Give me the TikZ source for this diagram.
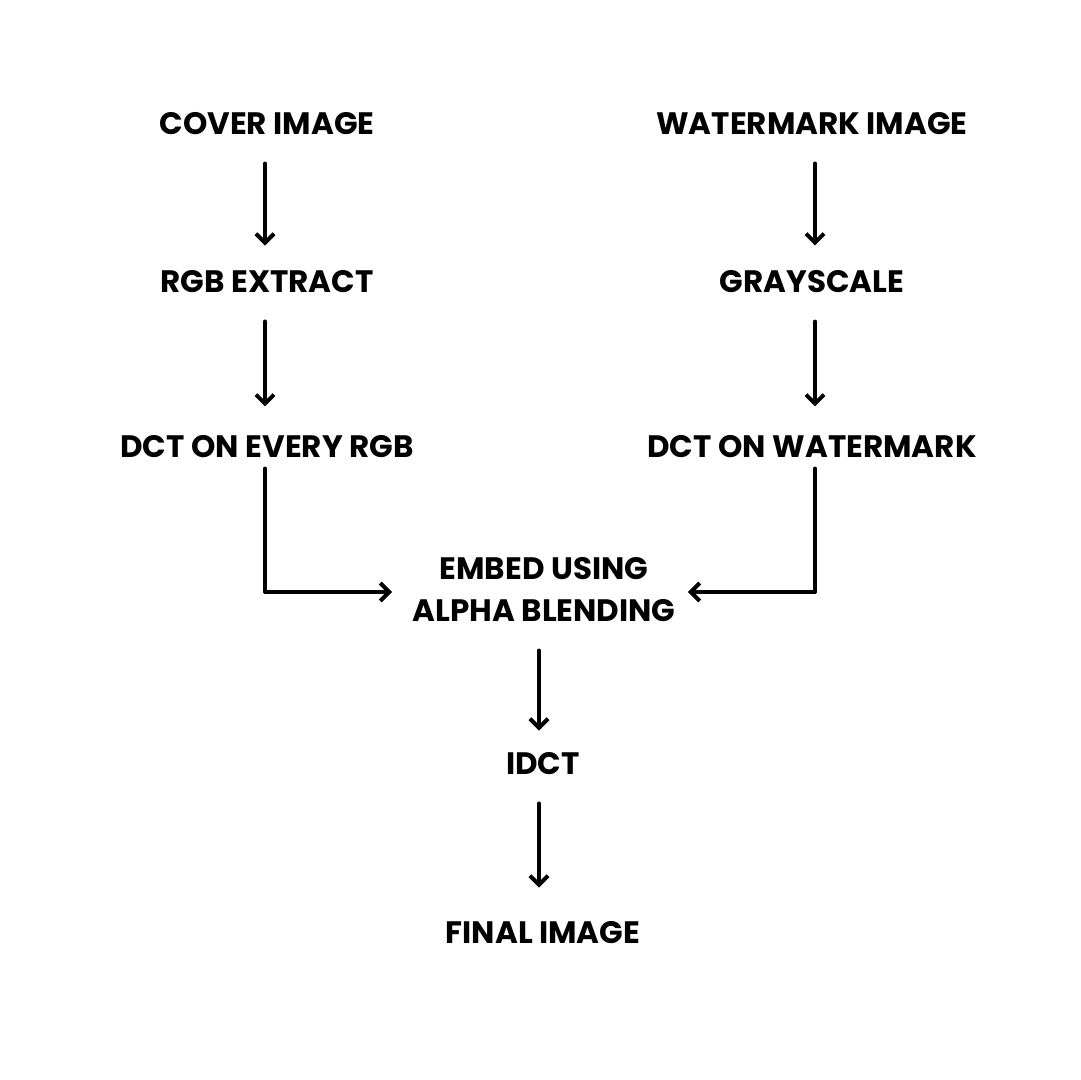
\documentclass[tikz,border=0pt]{standalone}
\usepackage{fontspec}
\setmainfont{Poppins}
\usetikzlibrary{arrows.meta}
\tikzset{
  step label/.style={font=\fontsize{15.5}{21}\selectfont\bfseries, inner sep=0pt, align=center},
  flow/.style={line width=2pt, line cap=round, line join=round,
    -{Straight Barb[length=4.5pt, width=9pt, line width=2pt]}},
}
\begin{document}
\begin{tikzpicture}[x=0.5pt, y=-0.5pt]
        \useasboundingbox (0,0) rectangle (1080,1080);
        \node[step label] (L1) at (267, 124) {COVER IMAGE};
        \node[step label] (L2) at (267, 282) {RGB EXTRACT};
        \node[step label] (L3) at (267, 447) {DCT ON EVERY RGB};
        \node[step label] (R1) at (812, 124) {WATERMARK IMAGE};
        \node[step label] (R2) at (812, 282) {GRAYSCALE};
        \node[step label] (R3) at (812, 447) {DCT ON WATERMARK};
        \node[step label] (M1) at (544, 590) {EMBED USING\\ALPHA BLENDING};
        \node[step label] (M2) at (543, 764) {IDCT};
        \node[step label] (M3) at (543, 933) {FINAL IMAGE};
        \coordinate (LT) at (265, 592);
        \coordinate (RT) at (815, 592);
        \draw[flow, shorten <=14pt, shorten >=12.5pt] (L1.south -| LT) to (L2.north -| LT);
        \draw[flow, shorten <=14pt, shorten >=14.5pt] (L2.south -| LT) to (L3.north -| LT);
        \draw[flow, shorten <=14pt, shorten >=12.5pt] (R1.south -| RT) to (R2.north -| RT);
        \draw[flow, shorten <=14pt, shorten >=14.5pt] (R2.south -| RT) to (R3.north -| RT);
        \draw[flow, shorten <=5pt, shorten >=10pt] (L3.south -| LT) |- (M1.west |- LT);
        \draw[flow, shorten <=5pt, shorten >=6pt] (R3.south -| RT) |- (M1.east |- RT);
        \draw[flow, shorten <=14pt, shorten >=11pt] (M1.south -| 539,0) to (M2.north -| 539,0);
        \draw[flow, shorten <=14pt, shorten >=17pt] (M2.south -| 539,0) to (M3.north -| 539,0);
\end{tikzpicture}
\end{document}
